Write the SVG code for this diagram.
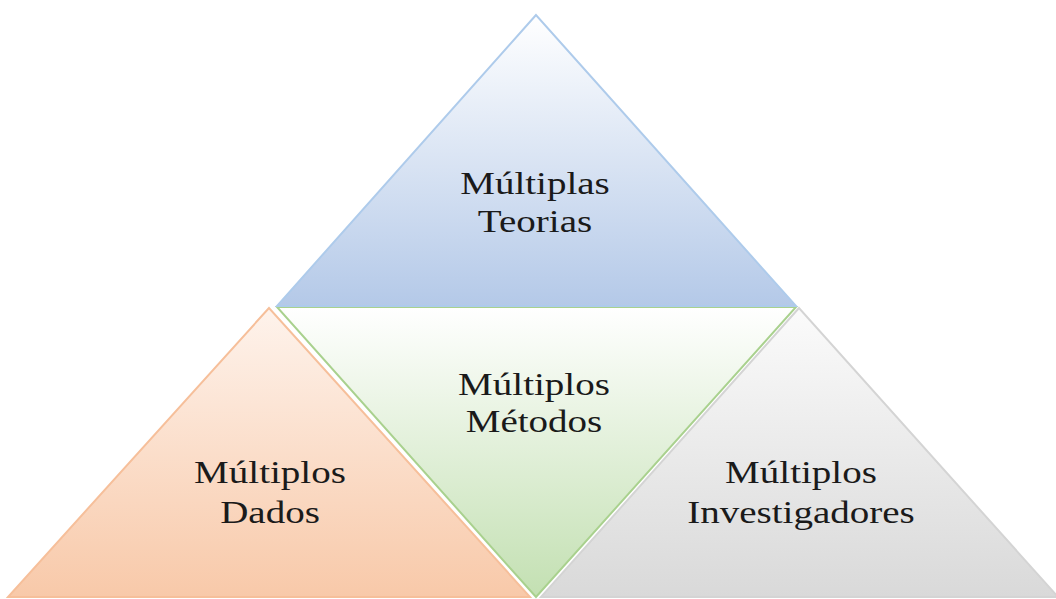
<svg xmlns="http://www.w3.org/2000/svg" width="1056" height="599" viewBox="0 0 1056 599">
<defs>
<linearGradient id="gBlue" x1="0" y1="0" x2="0" y2="1"><stop offset="0" stop-color="#ffffff"/><stop offset="1" stop-color="#b4c9e8"/></linearGradient>
<linearGradient id="gGreen" x1="0" y1="0" x2="0" y2="1"><stop offset="0" stop-color="#ffffff"/><stop offset="1" stop-color="#c3e0b2"/></linearGradient>
<linearGradient id="gOrange" x1="0" y1="0" x2="0" y2="1"><stop offset="0" stop-color="#fef3ec"/><stop offset="1" stop-color="#f8c9a9"/></linearGradient>
<linearGradient id="gGray" x1="0" y1="0" x2="0" y2="1"><stop offset="0" stop-color="#fbfbfb"/><stop offset="1" stop-color="#d9d9d9"/></linearGradient>
</defs>
<style>
.lbl{font-family:"Liberation Serif","Times New Roman",serif;font-size:32px;fill:#1a1a1a;text-anchor:middle}
.tri{stroke-width:2;stroke-linejoin:miter}
</style>
<rect width="1056" height="599" fill="#ffffff"/>
<g id="dados">
<polygon class="tri" points="269,308 8,597 530,597" fill="url(#gOrange)" stroke="#f6bf9a"/>
<text class="lbl" transform="matrix(1.22 0 0 1 270 483)">Múltiplos</text>
<text class="lbl" transform="matrix(1.22 0 0 1 270 523)">Dados</text>
</g>
<g id="investigadores">
<polygon class="tri" points="799,308 541,597 1058,597" fill="url(#gGray)" stroke="#d4d4d4"/>
<text class="lbl" transform="matrix(1.22 0 0 1 801 483)">Múltiplos</text>
<text class="lbl" transform="matrix(1.22 0 0 1 801 523)">Investigadores</text>
</g>
<g id="metodos">
<polygon class="tri" points="277,307 796,307 536,597" fill="url(#gGreen)" stroke="#a9d18e"/>
<text class="lbl" transform="matrix(1.22 0 0 1 534 395)">Múltiplos</text>
<text class="lbl" transform="matrix(1.22 0 0 1 534 432)">Métodos</text>
</g>
<g id="teorias">
<polygon class="tri" points="536,15 277,306 796,306" fill="url(#gBlue)" stroke="#aecbeb"/>
<text class="lbl" transform="matrix(1.22 0 0 1 535 194)">Múltiplas</text>
<text class="lbl" transform="matrix(1.22 0 0 1 535 232)">Teorias</text>
</g>
<g id="connectors"/>
</svg>
